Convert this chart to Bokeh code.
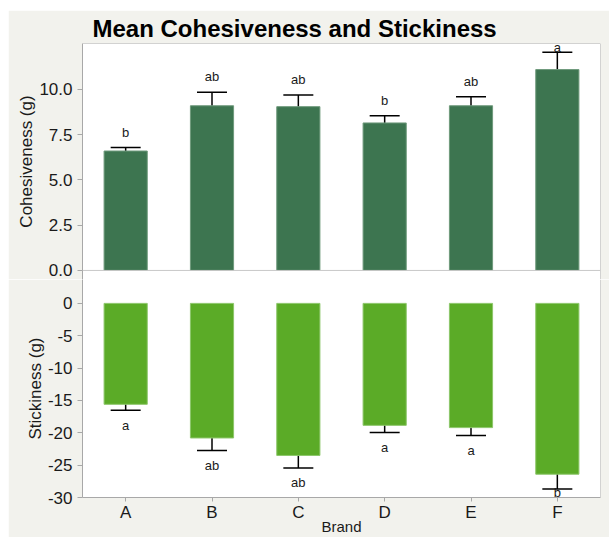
from bokeh.plotting import figure
from bokeh.models import (ColumnDataSource, Range1d, FactorRange, FixedTicker,
                          Whisker, TeeHead, LabelSet, NumeralTickFormatter,
                          PrintfTickFormatter, Span)
from bokeh.core.properties import value
from bokeh.layouts import column
from bokeh.embed import file_html
from bokeh.resources import INLINE

brands = ["A", "B", "C", "D", "E", "F"]
coh_mean = [6.6, 9.1, 9.05, 8.15, 9.1, 11.1]
coh_err = [0.2, 0.75, 0.65, 0.4, 0.5, 0.95]
coh_letters = ["b", "ab", "ab", "b", "ab", "a"]
stk_mean = [-15.6, -20.8, -23.5, -18.85, -19.2, -26.4]
stk_err = [0.9, 1.95, 1.95, 1.1, 1.2, 2.3]
stk_letters = ["a", "ab", "ab", "a", "a", "b"]
coh_ticks = [0, 2.5, 5, 7.5, 10]
stk_ticks = [0, -5, -10, -15, -20, -25, -30]

BG = "#f2f2ed"
AX = "#a8a8a8"
DARK = "#3d7550"
LIGHT = "#5bab27"
FONT = "Liberation Sans"
TXT = "#1a1a1a"

COH_MIN, COH_MAX = -0.5, 12.54
STK_MIN, STK_MAX = -30, 3.69

coh_src = ColumnDataSource(dict(
    brand=brands, mean=coh_mean,
    upper=[m + e for m, e in zip(coh_mean, coh_err)],
    lower=[m - e for m, e in zip(coh_mean, coh_err)],
    letter=coh_letters,
    label_y=[min(m + e + 0.85, COH_MAX - 0.2) for m, e in zip(coh_mean, coh_err)],
))
stk_src = ColumnDataSource(dict(
    brand=brands, mean=stk_mean,
    upper=[m + e for m, e in zip(stk_mean, stk_err)],
    lower=[m - e for m, e in zip(stk_mean, stk_err)],
    letter=stk_letters,
    label_y=[max(m - e - 2.3, STK_MIN + 0.7) for m, e in zip(stk_mean, stk_err)],
))


def style(p):
    p.background_fill_color = "white"
    p.border_fill_color = BG
    p.outline_line_color = None
    p.xgrid.visible = False
    p.ygrid.visible = False
    for ax in p.axis:
        ax.axis_line_color = AX
        ax.major_tick_line_color = AX
        ax.minor_tick_line_color = None
        ax.major_tick_out = 5
        ax.major_tick_in = 0
        ax.major_label_text_font = FONT
        ax.major_label_text_font_size = "17px"
        ax.major_label_text_color = TXT
        ax.axis_label_text_font = FONT
        ax.axis_label_text_font_size = "17px"
        ax.axis_label_text_font_style = "normal"
        ax.axis_label_text_color = TXT
        ax.major_label_standoff = 5
        ax.axis_label_standoff = 0
    # right border of the plotting box
    p.add_layout(Span(location=len(brands), dimension="height",
                      line_color=AX, line_width=1))


def add_bars(p, src, color, edge):
    p.vbar(x="brand", top="mean", bottom=0, width=0.5, source=src,
           fill_color=color, line_color=edge, line_width=1)
    head = dict(size=30, line_color="black", line_width=1.5)
    p.add_layout(Whisker(source=src, base="brand", upper="upper", lower="lower",
                         dimension="height", line_color="black", line_width=1.5,
                         upper_head=TeeHead(**head), lower_head=TeeHead(**head)))
    p.add_layout(LabelSet(source=src, x="brand", y="label_y", text="letter",
                          text_align="center", text_baseline="middle",
                          text_font=value(FONT), text_font_size="13px",
                          text_color=TXT))


xr = FactorRange(*brands, range_padding=0)

top = figure(width=601, height=269, x_range=xr,
             y_range=Range1d(COH_MIN, COH_MAX), output_backend="svg",
             toolbar_location=None, title="Mean Cohesiveness and Stickiness",
             min_border_left=74, min_border_right=9, min_border_bottom=0,
             min_border_top=33)
style(top)
add_bars(top, coh_src, DARK, "#6f9a7c")
top.add_layout(Span(location=0, dimension="width", line_color="#c8c8c8", line_width=1))
top.add_layout(Span(location=COH_MAX, dimension="width", line_color=AX, line_width=1))
top.xaxis.visible = False
top.yaxis.ticker = FixedTicker(ticks=coh_ticks)
top.yaxis.formatter = NumeralTickFormatter(format="0.0")
top.yaxis.axis_label = "Cohesiveness (g)"
top.title.text_font = FONT
top.title.text_font_size = "24px"
top.title.text_font_style = "bold"
top.title.text_color = "black"
top.title.align = "left"
top.title.offset = 10
top.title.standoff = 3

bot = figure(width=601, height=258, x_range=xr,
             y_range=Range1d(STK_MIN, STK_MAX), output_backend="svg",
             toolbar_location=None,
             min_border_left=74, min_border_right=9, min_border_top=0,
             min_border_bottom=0)
style(bot)
add_bars(bot, stk_src, LIGHT, "#8cc66a")
bot.yaxis.ticker = FixedTicker(ticks=stk_ticks)
bot.yaxis.formatter = PrintfTickFormatter(format="%d")
bot.yaxis.axis_label = "Stickiness (g)"
bot.xaxis.axis_label = "Brand"
bot.xaxis.major_label_text_font_size = "17px"
bot.xaxis.axis_label_text_font_size = "15px"
bot.xaxis.major_tick_out = 4
bot.xaxis.axis_label_standoff = -7
bot.xaxis.major_label_standoff = 1

layout = column(top, bot, spacing=0,
                styles={"margin-left": "8px", "margin-top": "10px"})
open("out.html", "w").write(file_html(layout, INLINE))
